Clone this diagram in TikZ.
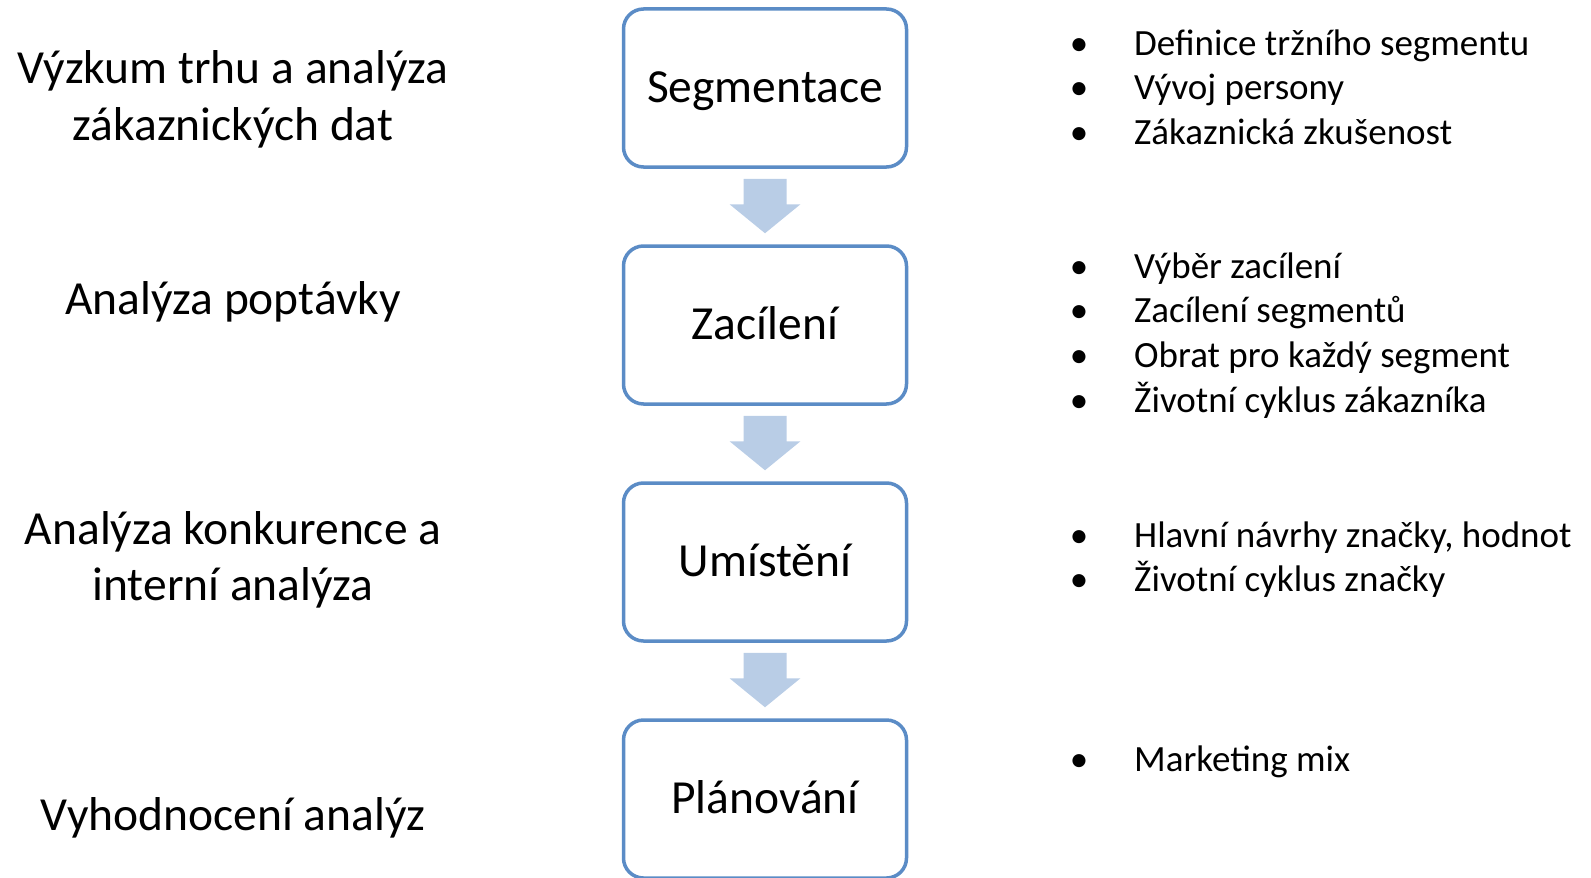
\documentclass[tikz,border=0pt]{standalone}
\usepackage{fontspec}
\setmainfont{Carlito}
\definecolor{boxline}{HTML}{5B8CC6}
\definecolor{arrowfill}{HTML}{B9CDE6}
\tikzset{
  stagebox/.style={draw=boxline, line width=3.5bp, rounded corners=20bp, fill=white,
    minimum width=283bp, minimum height=158bp, inner sep=0pt,
    text height=38bp, text depth=10bp,
    font=\fontsize{47.5bp}{57bp}\selectfont},
  lefttext/.style={anchor=base, inner sep=0pt, font=\fontsize{47.5bp}{57bp}\selectfont},
  bullettext/.style={anchor=base west, inner sep=0pt, font=\fontsize{37bp}{44bp}\selectfont},
  bulletdot/.style={anchor=base, inner sep=0pt, font=\fontsize{37bp}{44bp}\selectfont},
}
\newcommand{\flowarrow}[2]{%
  % block arrow hanging below stage #1, pointing at stage #2
  \fill[arrowfill] ([xshift=-21.5bp,yshift=-10bp]#1.south) -- ([xshift=21.5bp,yshift=-10bp]#1.south)
    -- ([xshift=21.5bp,yshift=40bp]#2.north) -- ([xshift=35.5bp,yshift=40bp]#2.north)
    -- ([yshift=11bp]#2.north) -- ([xshift=-35.5bp,yshift=40bp]#2.north)
    -- ([xshift=-21.5bp,yshift=40bp]#2.north) -- cycle;}
\begin{document}
\begin{tikzpicture}[x=1bp, y=-1bp]
\useasboundingbox (0,0) rectangle (1591,877);
\begin{scope}
\clip (0,0) rectangle (1591,877);
% stages
\node[stagebox] (seg) at (765,88) {Segmentace};
\node[stagebox] (zac) at (765,325) {Zacílení};
\node[stagebox] (umi) at (765,562) {Umístění};
\node[stagebox] (pla) at (765,799) {Plánování};
\flowarrow{seg}{zac}
\flowarrow{zac}{umi}
\flowarrow{umi}{pla}
\end{scope}
% analyses on the left
\node[lefttext] (l1a) at (233,83) {Výzkum trhu a analýza};
\node[lefttext] (l1b) at (233,140) {zákaznických dat};
\node[lefttext] (l2) at (233,314) {Analýza poptávky};
\node[lefttext] (l3a) at (233,544) {Analýza konkurence a};
\node[lefttext] (l3b) at (233,600) {interní analýza};
\node[lefttext] (l4) at (233,830) {Vyhodnocení analýz};
% activities on the right
\foreach \y/\t [count=\i] in {55/Definice tržního segmentu, 99/Vývoj persony, 144/Zákaznická zkušenost,
    278/Výběr zacílení, 322.5/Zacílení segmentů, 367/Obrat pro každý segment, 412/Životní cyklus zákazníka,
    547/{Hlavní návrhy značky, hodnot}, 591/Životní cyklus značky,
    771/Marketing mix}{
  \node[bulletdot] (b\i) at (1079,\y) {•};
  \node[bullettext] (r\i) at (1134,\y) {\t};
}
\end{tikzpicture}
\end{document}
